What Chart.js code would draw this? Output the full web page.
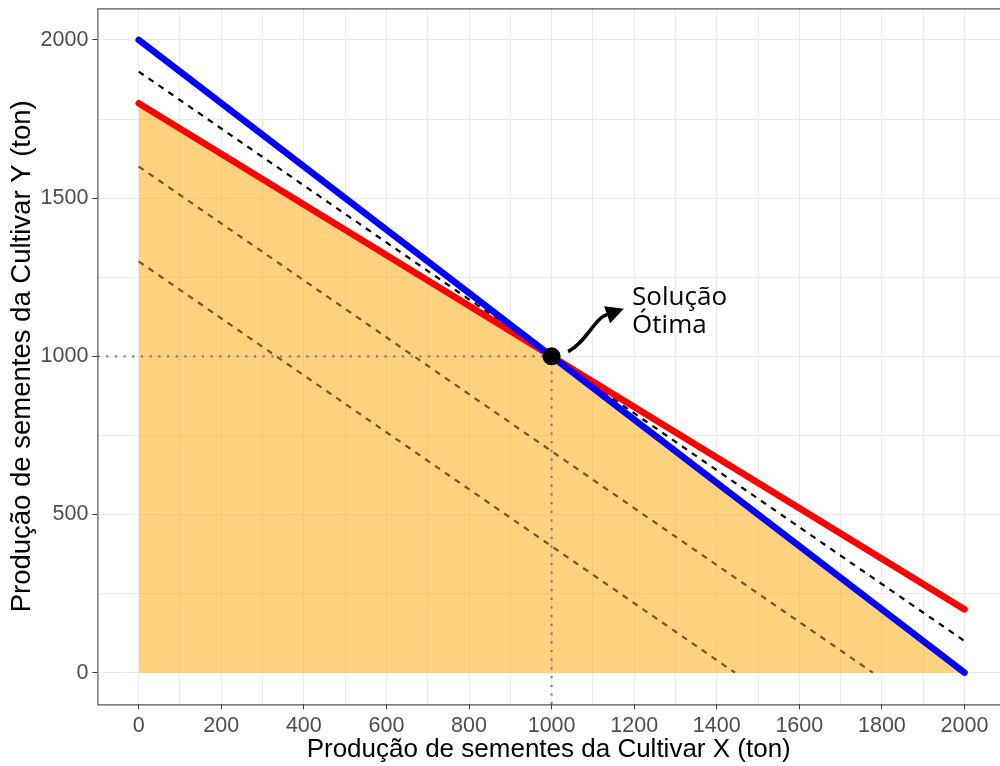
<!DOCTYPE html>
<html>
<head>
<meta charset="utf-8">
<script src="https://cdn.jsdelivr.net/npm/chart.js@4"></script>
<style>
    html, body { margin: 0; padding: 0; background: #fff; overflow: hidden; }
</style>
</head>
<body>
<canvas id="grafico" width="1000" height="766"></canvas>
<script>
// restrições e retas de nível (x = Cultivar X, y = Cultivar Y)
const azulX = [0, 2000];
const azulY = [2000, 0];
const vermelhoX = [0, 2000];
const vermelhoY = [1800, 200];
const otimaX = [0, 2000];
const otimaY = [1900, 100];
const nivel1X = [0, 1778];
const nivel1Y = [1600, 0];
const nivel2X = [0, 1444];
const nivel2Y = [1300, 0];

// região viável
const regiaoX = [0, 1000, 2000];
const regiaoY = [1800, 1000, 0];

// solução ótima
const solucaoX = [1000];
const solucaoY = [1000];

const xBreaks = [0, 200, 400, 600, 800, 1000, 1200, 1400, 1600, 1800, 2000];
const yBreaks = [0, 500, 1000, 1500, 2000];
const xLimites = [-100, 2086];
const yLimites = [-100, 2100];

const rotuloSolucao = ['Solução', 'Ótima'];
const textoPos = { x: 1195, y: [1162, 1073] };
const setaDe = { x: 1040, y: 1015 };
const setaPara = { x: 1175, y: 1150 };

function pontos(xs, ys) {
    return xs.map((x, i) => ({ x: x, y: ys[i] }));
}

function comMenores(breaks) {
    const out = [];
    for (let i = 0; i < breaks.length; i++) {
        out.push(breaks[i]);
        if (i < breaks.length - 1) out.push((breaks[i] + breaks[i + 1]) / 2);
    }
    return out;
}

const fonte = '"Liberation Sans", Arial, sans-serif';

const moldura = {
    id: 'moldura',
    afterDraw(chart) {
        const { ctx, chartArea, scales } = chart;
        const sx = scales.x, sy = scales.y;
        ctx.save();

        // seta curva até o texto
        const x0 = sx.getPixelForValue(setaDe.x), y0 = sy.getPixelForValue(setaDe.y);
        const x3 = sx.getPixelForValue(setaPara.x), y3 = sy.getPixelForValue(setaPara.y);
        const dx = x3 - x0, dy = y3 - y0;
        const bx = x0 + dx * 0.7, by = y0 + dy * 0.86;
        ctx.strokeStyle = '#000';
        ctx.lineWidth = 3.5;
        ctx.lineCap = 'butt';
        ctx.beginPath();
        ctx.moveTo(x0, y0);
        ctx.bezierCurveTo(x0 + dx * 0.32, y0 + dy * 0.2, x0 + dx * 0.48, y0 + dy * 0.8, bx, by);
        ctx.stroke();
        const ang = Math.atan2(y3 - by, x3 - bx);
        const len = Math.hypot(x3 - bx, y3 - by);
        const meia = 9;
        ctx.fillStyle = '#000';
        ctx.beginPath();
        ctx.moveTo(x3, y3);
        ctx.lineTo(x3 - len * Math.cos(ang) - meia * Math.sin(ang), y3 - len * Math.sin(ang) + meia * Math.cos(ang));
        ctx.lineTo(x3 - len * Math.cos(ang) + meia * Math.sin(ang), y3 - len * Math.sin(ang) - meia * Math.cos(ang));
        ctx.closePath();
        ctx.fill();

        // texto
        ctx.font = '26px "Open Sans", sans-serif';
        ctx.textAlign = 'left';
        ctx.textBaseline = 'alphabetic';
        ctx.fillStyle = '#000';
        const tx = sx.getPixelForValue(textoPos.x);
        rotuloSolucao.forEach((t, i) => {
            ctx.fillText(t, tx, sy.getPixelForValue(textoPos.y[i]));
        });

        // borda do painel (o lado direito fica fora da imagem)
        const { left, top, right, bottom } = chartArea;
        ctx.strokeStyle = '#555';
        ctx.lineWidth = 1.2;
        ctx.beginPath();
        ctx.moveTo(right + 2, top + 0.5);
        ctx.lineTo(left + 0.5, top + 0.5);
        ctx.lineTo(left + 0.5, bottom + 0.5);
        ctx.lineTo(right + 2, bottom + 0.5);
        ctx.stroke();
        ctx.restore();
    }
};

function semFolga(scale) {
    scale.paddingLeft = 0;
    scale.paddingRight = 0;
    scale.paddingTop = 0;
    scale.paddingBottom = 0;
}

new Chart(document.getElementById('grafico'), {
    type: 'line',
    data: {
        datasets: [
            {
                data: pontos(solucaoX, solucaoY),
                showLine: false,
                pointRadius: 9,
                pointBackgroundColor: '#000',
                pointBorderWidth: 0,
                order: 0
            },
            {
                data: pontos(azulX, azulY),
                borderColor: '#0000ff',
                borderWidth: 6.5,
                borderCapStyle: 'round',
                pointRadius: 0,
                order: 1
            },
            {
                data: pontos(vermelhoX, vermelhoY),
                borderColor: '#ff0000',
                borderWidth: 6.5,
                borderCapStyle: 'round',
                pointRadius: 0,
                order: 2
            },
            {
                data: pontos(otimaX, otimaY),
                borderColor: '#000',
                borderWidth: 2.2,
                borderDash: [6, 6],
                pointRadius: 0,
                order: 3
            },
            {
                data: pontos(nivel1X, nivel1Y),
                borderColor: '#7a5516',
                borderWidth: 2.2,
                borderDash: [6, 6],
                pointRadius: 0,
                order: 4
            },
            {
                data: pontos(nivel2X, nivel2Y),
                borderColor: '#7a5516',
                borderWidth: 2.2,
                borderDash: [6, 6],
                pointRadius: 0,
                order: 4
            },
            {
                data: [{ x: xLimites[0], y: solucaoY[0] }, { x: solucaoX[0], y: solucaoY[0] }],
                borderColor: '#7f7f90',
                borderWidth: 2.2,
                borderDash: [2.2, 6.5],
                pointRadius: 0,
                order: 5
            },
            {
                data: [{ x: solucaoX[0], y: yLimites[0] }, { x: solucaoX[0], y: solucaoY[0] }],
                borderColor: '#7f7f90',
                borderWidth: 2.2,
                borderDash: [2.2, 6.5],
                pointRadius: 0,
                order: 5
            },
            {
                data: pontos(regiaoX, regiaoY),
                borderWidth: 0,
                pointRadius: 0,
                fill: 'origin',
                backgroundColor: 'rgba(255, 165, 0, 0.5)',
                order: 6
            }
        ]
    },
    options: {
        responsive: false,
        devicePixelRatio: 1,
        animation: false,
        layout: { autoPadding: false, padding: { left: 0, top: 8.3, right: 0, bottom: 0 } },
        plugins: {
            legend: { display: false },
            tooltip: { enabled: false }
        },
        scales: {
            x: {
                type: 'linear',
                min: xLimites[0],
                max: xLimites[1],
                afterBuildTicks: (scale) => {
                    scale.ticks = comMenores(xBreaks).map(v => ({ value: v }));
                },
                afterFit: (scale) => { scale.height = 61.7; semFolga(scale); },
                ticks: {
                    autoSkip: false,
                    maxRotation: 0,
                    padding: 4,
                    color: '#4d4d4d',
                    font: { family: fonte, size: 21.5 },
                    callback: (v) => xBreaks.includes(v) ? String(v) : ''
                },
                grid: {
                    color: '#ebebeb',
                    lineWidth: 1,
                    tickLength: 5,
                    tickColor: (ctx) => xBreaks.includes(ctx.tick.value) ? '#333' : 'rgba(0,0,0,0)'
                },
                border: { display: false },
                title: {
                    display: true,
                    text: 'Produção de sementes da Cultivar X (ton)',
                    color: '#000',
                    font: { family: fonte, size: 26 },
                    padding: { top: 0, bottom: 1 }
                }
            },
            y: {
                type: 'linear',
                min: yLimites[0],
                max: yLimites[1],
                afterBuildTicks: (scale) => {
                    scale.ticks = comMenores(yBreaks).map(v => ({ value: v }));
                },
                afterFit: (scale) => { scale.width = 97.4; semFolga(scale); },
                ticks: {
                    autoSkip: false,
                    padding: 4,
                    color: '#4d4d4d',
                    font: { family: fonte, size: 21.5 },
                    callback: (v) => yBreaks.includes(v) ? String(v) : ''
                },
                grid: {
                    color: '#ebebeb',
                    lineWidth: 1,
                    tickLength: 5,
                    tickColor: (ctx) => yBreaks.includes(ctx.tick.value) ? '#333' : 'rgba(0,0,0,0)'
                },
                border: { display: false },
                title: {
                    display: true,
                    text: 'Produção de sementes da Cultivar Y (ton)',
                    color: '#000',
                    font: { family: fonte, size: 27.5 },
                    padding: { top: 5.5, bottom: 0 }
                }
            }
        }
    },
    plugins: [moldura]
});
</script>
</body>
</html>
